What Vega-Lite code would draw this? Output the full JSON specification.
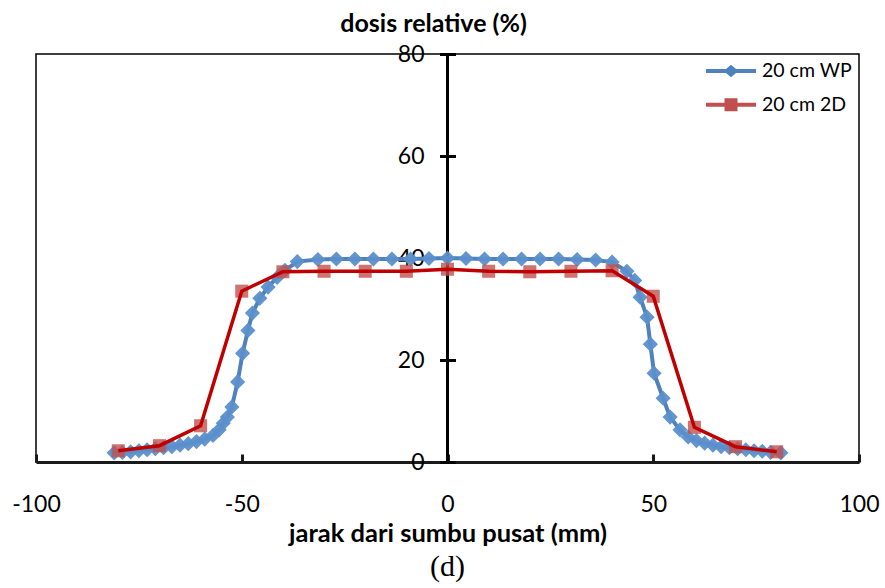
{
  "$schema": "https://vega.github.io/schema/vega-lite/v6.json",
  "width": 823,
  "height": 408,
  "autosize": "none",
  "padding": {"left": 36, "top": 54, "right": 26, "bottom": 126},
  "background": "white",
  "title": {
    "text": "(d)",
    "orient": "bottom",
    "anchor": "middle",
    "offset": 5,
    "font": "Liberation Serif",
    "fontSize": 30,
    "fontWeight": "normal",
    "color": "#000"
  },
  "data": {
    "values": [
      {"series": "20 cm WP", "x": -81, "dose": 1.8},
      {"series": "20 cm WP", "x": -79, "dose": 1.9},
      {"series": "20 cm WP", "x": -77, "dose": 2.0},
      {"series": "20 cm WP", "x": -75, "dose": 2.2},
      {"series": "20 cm WP", "x": -73, "dose": 2.4},
      {"series": "20 cm WP", "x": -71, "dose": 2.6},
      {"series": "20 cm WP", "x": -69, "dose": 2.8},
      {"series": "20 cm WP", "x": -67, "dose": 3.0},
      {"series": "20 cm WP", "x": -65, "dose": 3.3},
      {"series": "20 cm WP", "x": -63, "dose": 3.6},
      {"series": "20 cm WP", "x": -61, "dose": 4.0},
      {"series": "20 cm WP", "x": -59, "dose": 4.5},
      {"series": "20 cm WP", "x": -57, "dose": 5.2},
      {"series": "20 cm WP", "x": -55.5, "dose": 6.3},
      {"series": "20 cm WP", "x": -54.5, "dose": 7.6},
      {"series": "20 cm WP", "x": -53.5, "dose": 8.8},
      {"series": "20 cm WP", "x": -52.4, "dose": 10.8},
      {"series": "20 cm WP", "x": -51.0, "dose": 15.7},
      {"series": "20 cm WP", "x": -49.8, "dose": 21.3},
      {"series": "20 cm WP", "x": -48.5, "dose": 25.8},
      {"series": "20 cm WP", "x": -47.4, "dose": 29.2},
      {"series": "20 cm WP", "x": -45.6, "dose": 32.1},
      {"series": "20 cm WP", "x": -43.6, "dose": 34.3},
      {"series": "20 cm WP", "x": -41.4, "dose": 36.2},
      {"series": "20 cm WP", "x": -39.5, "dose": 37.6},
      {"series": "20 cm WP", "x": -36.5, "dose": 39.3},
      {"series": "20 cm WP", "x": -31.5, "dose": 39.7},
      {"series": "20 cm WP", "x": -27, "dose": 39.8},
      {"series": "20 cm WP", "x": -22.5, "dose": 39.8},
      {"series": "20 cm WP", "x": -18, "dose": 39.8},
      {"series": "20 cm WP", "x": -13.5, "dose": 39.8},
      {"series": "20 cm WP", "x": -9, "dose": 39.8},
      {"series": "20 cm WP", "x": -4.5, "dose": 39.9},
      {"series": "20 cm WP", "x": 0, "dose": 40.0},
      {"series": "20 cm WP", "x": 4.5, "dose": 39.9},
      {"series": "20 cm WP", "x": 9, "dose": 39.8},
      {"series": "20 cm WP", "x": 13.5, "dose": 39.8},
      {"series": "20 cm WP", "x": 18, "dose": 39.8},
      {"series": "20 cm WP", "x": 22.5, "dose": 39.8},
      {"series": "20 cm WP", "x": 27, "dose": 39.8},
      {"series": "20 cm WP", "x": 31.5, "dose": 39.7},
      {"series": "20 cm WP", "x": 36, "dose": 39.6},
      {"series": "20 cm WP", "x": 40, "dose": 39.2},
      {"series": "20 cm WP", "x": 43.6, "dose": 37.4},
      {"series": "20 cm WP", "x": 45.5, "dose": 35.6},
      {"series": "20 cm WP", "x": 46.8, "dose": 32.3},
      {"series": "20 cm WP", "x": 48.5, "dose": 28.4},
      {"series": "20 cm WP", "x": 49.3, "dose": 23.1},
      {"series": "20 cm WP", "x": 50.2, "dose": 17.4},
      {"series": "20 cm WP", "x": 52.4, "dose": 12.5},
      {"series": "20 cm WP", "x": 54.1, "dose": 8.8},
      {"series": "20 cm WP", "x": 56.5, "dose": 6.3},
      {"series": "20 cm WP", "x": 58.5, "dose": 4.9},
      {"series": "20 cm WP", "x": 60.5, "dose": 4.2},
      {"series": "20 cm WP", "x": 62.5, "dose": 3.7},
      {"series": "20 cm WP", "x": 64.5, "dose": 3.3},
      {"series": "20 cm WP", "x": 66.5, "dose": 3.0},
      {"series": "20 cm WP", "x": 68.5, "dose": 2.8},
      {"series": "20 cm WP", "x": 70.5, "dose": 2.6},
      {"series": "20 cm WP", "x": 72.5, "dose": 2.4},
      {"series": "20 cm WP", "x": 74.5, "dose": 2.2},
      {"series": "20 cm WP", "x": 76.5, "dose": 2.1},
      {"series": "20 cm WP", "x": 78.5, "dose": 1.9},
      {"series": "20 cm WP", "x": 81, "dose": 1.8},
      {"series": "20 cm 2D", "x": -80, "dose": 2.2},
      {"series": "20 cm 2D", "x": -70, "dose": 3.2},
      {"series": "20 cm 2D", "x": -60, "dose": 7.1},
      {"series": "20 cm 2D", "x": -50, "dose": 33.5},
      {"series": "20 cm 2D", "x": -40, "dose": 37.3},
      {"series": "20 cm 2D", "x": -30, "dose": 37.4},
      {"series": "20 cm 2D", "x": -20, "dose": 37.4},
      {"series": "20 cm 2D", "x": -10, "dose": 37.4},
      {"series": "20 cm 2D", "x": 0, "dose": 37.8},
      {"series": "20 cm 2D", "x": 10, "dose": 37.4},
      {"series": "20 cm 2D", "x": 20, "dose": 37.3},
      {"series": "20 cm 2D", "x": 30, "dose": 37.4},
      {"series": "20 cm 2D", "x": 40, "dose": 37.5},
      {"series": "20 cm 2D", "x": 50, "dose": 32.5},
      {"series": "20 cm 2D", "x": 60, "dose": 6.8},
      {"series": "20 cm 2D", "x": 70, "dose": 3.0},
      {"series": "20 cm 2D", "x": 80, "dose": 2.0}
    ]
  },
  "layer": [
    {
      "mark": {"type": "rule", "color": "#000", "strokeWidth": 3},
      "encoding": {
        "x": {"datum": 0, "type": "quantitative"}
      }
    },
    {
      "transform": [{"filter": "datum.series === '20 cm WP'"}],
      "mark": {"type": "line", "color": "#4F81BD", "strokeWidth": 4},
      "encoding": {
        "x": {
          "field": "x",
          "type": "quantitative",
          "scale": {"domain": [-100, 100], "nice": false, "zero": false},
          "axis": {
            "values": [-100, -50, 0, 50, 100],
            "labelExpr": "'' + datum.value",
            "grid": false,
            "domainColor": "#1a1a1a",
            "domainWidth": 3,
            "tickColor": "#1a1a1a",
            "tickWidth": 3,
            "tickSize": -8,
            "labelFont": "Lato",
            "labelFontSize": 23,
            "labelColor": "#000",
            "labelPadding": 50,
            "labelBaseline": "middle",
            "labelFlush": false,
            "labelOverlap": false,
            "title": "jarak dari sumbu pusat (mm)",
            "titleFont": "Lato",
            "titleFontSize": 25.5,
            "titleFontWeight": "bold",
            "titleColor": "#000",
            "titleY": 71,
            "titleBaseline": "middle"
          }
        },
        "y": {
          "field": "dose",
          "type": "quantitative",
          "scale": {"domain": [0, 80], "nice": false},
          "axis": {
            "values": [0, 20, 40, 60, 80],
            "grid": false,
            "offset": -419.5,
            "domain": false,
            "tickColor": "#000",
            "tickWidth": 3,
            "tickSize": 16,
            "labelPadding": 15.5,
            "labelFont": "Lato",
            "labelFontSize": 23,
            "labelColor": "#000",
            "labelFlush": false,
            "labelOverlap": false,
            "title": "dosis relative (%)",
            "titleAngle": 0,
            "titleX": -22.5,
            "titleY": -31,
            "titleAlign": "center",
            "titleBaseline": "middle",
            "titleFont": "Lato",
            "titleFontSize": 25,
            "titleFontWeight": "bold",
            "titleColor": "#000"
          }
        }
      }
    },
    {
      "transform": [{"filter": "datum.series === '20 cm WP'"}],
      "mark": {"type": "point", "shape": "diamond", "filled": true, "color": "#5B8FCB", "opacity": 0.95, "size": 230, "strokeWidth": 0},
      "encoding": {
        "x": {"field": "x", "type": "quantitative"},
        "y": {"field": "dose", "type": "quantitative"}
      }
    },
    {
      "transform": [{"filter": "datum.series === '20 cm 2D'"}],
      "mark": {"type": "point", "shape": "square", "filled": true, "color": "#C0504D", "opacity": 0.8, "size": 170, "strokeWidth": 0},
      "encoding": {
        "x": {"field": "x", "type": "quantitative"},
        "y": {"field": "dose", "type": "quantitative"}
      }
    },
    {
      "transform": [{"filter": "datum.series === '20 cm 2D'"}],
      "mark": {"type": "line", "color": "#C00000", "strokeWidth": 3.5},
      "encoding": {
        "x": {"field": "x", "type": "quantitative"},
        "y": {"field": "dose", "type": "quantitative"}
      }
    },
    {
      "transform": [{"filter": "false"}],
      "mark": {"type": "point", "filled": true, "opacity": 1},
      "encoding": {
        "color": {
          "field": "series",
          "type": "nominal",
          "scale": {"domain": ["20 cm WP", "20 cm 2D"], "range": ["#4F81BD", "#C0504D"]},
          "legend": {
            "title": null,
            "orient": "none",
            "legendX": 670,
            "legendY": 2,
            "padding": 0,
            "symbolSize": 2500,
            "symbolStrokeWidth": 0,
            "symbolOpacity": 1,
            "clipHeight": 30,
            "rowPadding": 3.7,
            "labelOffset": 6,
            "labelFont": "Lato",
            "labelFontSize": 19.5,
            "labelColor": "#000"
          }
        },
        "shape": {
          "field": "series",
          "type": "nominal",
          "scale": {
            "domain": ["20 cm WP", "20 cm 2D"],
            "range": [
              "M-1,-0.08L-0.2,-0.08L0,-0.25L0.2,-0.08L1,-0.08L1,0.08L0.2,0.08L0,0.25L-0.2,0.08L-1,0.08Z",
              "M-1,-0.08H-0.26V-0.26H0.26V-0.08H1V0.08H0.26V0.26H-0.26V0.08H-1Z"
            ]
          }
        }
      }
    }
  ],
  "config": {
    "view": {"stroke": "#000", "strokeWidth": 1.5},
    "axis": {"grid": false}
  }
}
